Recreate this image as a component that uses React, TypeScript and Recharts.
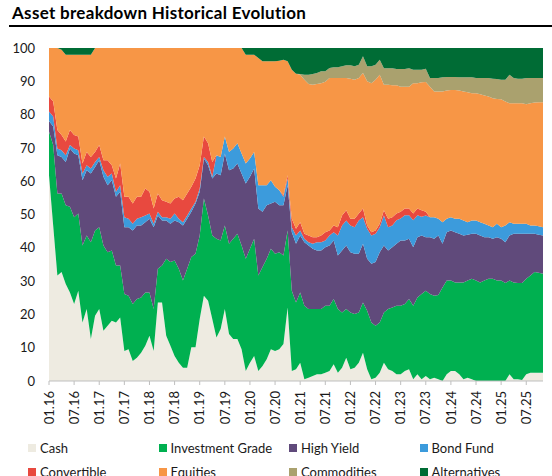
import React from 'react';
import { AreaChart, Area, XAxis, YAxis } from 'recharts';

const FONT = 'Lato, "Open Sans", sans-serif';

// monthly observations, 01.16 .. 11.25
const months: string[] = [];
for (let i = 0; i < 119; i++) {
  const m = (i % 12) + 1;
  const y = 16 + Math.floor(i / 12);
  months.push(`${m < 10 ? '0' + m : m}.${y}`);
}

const tickLabels = [
  '01.16', '07.16', '01.17', '07.17', '01.18', '07.18', '01.19', '07.19', '01.20', '07.20',
  '01.21', '07.21', '01.22', '07.22', '01.23', '07.23', '01.24', '07.24', '01.25', '07.25',
];

const yTicks = [0, 10, 20, 30, 40, 50, 60, 70, 80, 90, 100];

const cash = [
  61.8, 46.7, 31.7, 32.7, 29.1, 26.6, 23.1, 27.1, 17.6, 21.6, 12.6, 19.6, 21.6, 15.1, 16.6, 18.1, 17.6, 19.1, 9.0, 9.5,
  6.0, 7.0, 8.5, 10.6, 13.6, 9.0, 23.6, 23.6, 13.6, 10.6, 7.5, 5.5, 4.0, 4.0, 10.1, 10.1, 18.6, 25.6, 24.1, 18.6,
  13.1, 15.6, 21.6, 14.1, 12.6, 12.6, 9.5, 3.0, 5.5, 7.5, 3.0, 4.5, 6.5, 9.5, 9.0, 9.5, 11.1, 22.1, 3.0, 3.5,
  5.5, 0.5, 1.0, 1.5, 2.0, 2.0, 2.5, 3.0, 5.0, 2.5, 4.0, 7.0, 3.5, 4.0, 5.5, 8.5, 3.5, 0.5, 1.0, 2.5,
  5.5, 3.5, 3.0, 2.0, 2.0, 3.0, 3.5, 0.5, 2.0, 0.5, 1.5, 0.5, 1.0, 0.5, 0, 2.0, 3.0, 3.0, 2.0, 0.5,
  1.0, 0.5, 0, 0, 0, 0, 0, 0, 0, 0, 2.0, 0.5, 0.5, 0.3, 2.0, 2.5, 2.5, 2.5, 2.5,
];

const investmentGrade = [
  13.1, 24.2, 24.6, 23.6, 23.7, 25.7, 26.1, 23.2, 23.1, 22.1, 29.1, 25.6, 24.6, 25.6, 22.1, 21.1, 17.1, 15.6, 17.1, 16.1,
  17.1, 17.6, 16.6, 16.0, 13.0, 12.6, 10.1, 11.1, 23.1, 25.1, 28.7, 28.2, 26.2, 29.7, 27.1, 28.1, 25.1, 29.2, 25.6, 25.1,
  29.6, 26.6, 25.1, 27.1, 30.1, 31.6, 31.2, 33.7, 34.2, 35.2, 28.7, 29.7, 30.2, 30.2, 29.2, 29.2, 26.6, 23.1, 24.1, 20.1,
  21.1, 22.1, 20.6, 20.1, 19.6, 19.6, 20.1, 19.6, 19.6, 19.1, 16.6, 14.6, 17.1, 16.1, 15.1, 15.1, 17.6, 17.1, 15.6, 15.1,
  15.1, 18.1, 19.1, 20.6, 20.6, 20.1, 21.1, 22.1, 23.1, 25.6, 25.6, 25.6, 24.6, 25.3, 28.1, 28.2, 27.2, 26.6, 27.6, 29.1,
  29.2, 30.2, 30.2, 29.6, 30.2, 30.7, 30.7, 30.2, 30.2, 29.4, 28.2, 29.1, 28.9, 29.1, 28.7, 29.2, 30.2, 30.0, 29.7,
];

const highYield = [
  3.2, 5.5, 11.5, 11.0, 13.0, 17.5, 19.1, 17.5, 19.6, 19.6, 20.6, 19.1, 20.1, 20.6, 20.1, 21.1, 20.6, 22.1, 20.1, 20.6,
  22.1, 22.1, 21.6, 21.1, 22.1, 24.6, 16.0, 13.5, 11.5, 11.5, 12.0, 14.0, 16.5, 15.0, 13.6, 15.1, 13.1, 12.0, 15.1, 17.1,
  19.6, 19.6, 21.6, 22.1, 21.1, 21.1, 21.6, 22.6, 21.6, 21.1, 20.1, 16.6, 16.1, 13.6, 15.6, 14.1, 15.1, 13.6, 17.6, 17.6,
  17.1, 19.1, 19.1, 18.1, 17.6, 17.6, 17.6, 18.1, 17.6, 16.1, 18.6, 19.1, 18.1, 18.1, 17.6, 17.6, 15.6, 17.6, 19.1, 21.1,
  20.1, 17.6, 18.1, 18.6, 19.6, 19.1, 18.1, 17.6, 18.1, 17.6, 16.1, 17.1, 17.1, 17.9, 13.1, 14.5, 15.0, 15.1, 14.6, 14.1,
  13.7, 13.5, 14.0, 14.1, 13.0, 12.5, 12.0, 13.0, 12.5, 12.3, 13.5, 14.6, 14.8, 14.8, 13.5, 12.5, 11.5, 11.4, 11.5,
];

const bondFund = [
  2.8, 3.0, 2.0, 2.0, 2.0, 1.1, 1.5, 1.5, 2.0, 1.5, 1.5, 1.5, 1.0, 2.0, 2.5, 2.0, 1.5, 2.0, 3.0, 2.5,
  2.0, 2.0, 2.5, 2.0, 1.6, 1.0, 1.1, 1.0, 1.0, 1.5, 2.1, 1.0, 1.0, 1.0, 1.0, 0.5, 1.0, 0.5, 1.0, 0.5,
  5.5, 5.5, 5.1, 5.5, 6.0, 6.1, 6.0, 6.0, 5.5, 5.0, 7.0, 8.0, 6.0, 7.0, 4.5, 4.5, 2.5, 2.0, 1.5, 2.5,
  1.5, 1.0, 1.0, 1.5, 2.5, 2.5, 2.0, 3.0, 2.5, 6.0, 7.5, 7.5, 8.0, 8.0, 10.0, 8.0, 9.0, 8.5, 8.5, 7.5,
  9.0, 7.0, 6.5, 7.1, 6.6, 7.6, 7.1, 8.1, 6.6, 5.6, 6.5, 6.0, 6.5, 5.0, 6.5, 4.0, 4.0, 4.0, 4.5, 4.5,
  3.8, 4.0, 4.0, 4.0, 4.0, 3.5, 3.5, 4.0, 3.5, 5.0, 4.0, 3.0, 3.0, 3.0, 3.0, 2.5, 2.5, 2.6, 2.5,
];

const convertible = [
  4.5, 4.5, 5.6, 4.6, 4.1, 4.5, 4.1, 4.1, 3.0, 4.0, 3.5, 3.0, 3.6, 3.0, 5.0, 2.5, 4.0, 6.5, 6.1, 6.6,
  6.1, 6.6, 6.1, 8.1, 6.5, 4.6, 5.5, 5.1, 4.6, 4.6, 4.5, 6.6, 6.6, 6.6, 6.5, 7.0, 7.0, 6.1, 5.6, 4.5,
  0, 0, 0, 0, 0, 0, 0, 0, 0, 0, 0, 0, 0, 0, 0, 0, 0.5, 1.0, 2.5, 2.0,
  2.5, 1.5, 2.0, 2.0, 1.5, 2.0, 2.5, 1.5, 2.0, 2.5, 3.0, 3.1, 2.0, 2.5, 2.1, 2.6, 1.0, 1.0, 1.0, 1.0,
  1.6, 2.5, 2.5, 2.0, 2.0, 2.0, 2.0, 2.0, 2.0, 2.0, 1.1, 0, 0, 0, 0, 0, 0, 0, 0, 0,
  0, 0, 0, 0, 0, 0, 0, 0, 0, 0, 0, 0, 0, 0, 0, 0, 0, 0, 0,
];

const equities = [
  14.6, 16.1, 24.6, 25.6, 26.1, 22.6, 24.1, 24.6, 32.7, 29.2, 30.7, 31.2, 29.1, 33.7, 33.7, 35.2, 39.2, 34.7, 44.7, 44.7,
  46.7, 44.7, 44.7, 42.2, 43.2, 48.2, 43.7, 45.7, 46.2, 46.7, 45.2, 44.7, 45.7, 43.7, 41.7, 39.2, 35.2, 26.6, 28.6, 34.2,
  32.2, 32.7, 26.6, 31.2, 30.2, 28.6, 31.7, 32.7, 31.2, 29.2, 38.2, 37.2, 37.2, 35.7, 37.7, 38.9, 40.7, 34.2, 44.8, 46.6,
  44.3, 46.3, 45.5, 45.8, 46.0, 45.7, 45.2, 45.8, 44.3, 44.8, 41.3, 39.7, 42.1, 41.8, 40.7, 40.7, 43.3, 44.7, 45.3, 44.8,
  37.7, 40.3, 39.6, 38.5, 37.6, 36.6, 36.6, 39.1, 37.6, 38.4, 39.0, 39.2, 37.7, 38.2, 39.2, 38.5, 38.2, 38.7, 38.5, 38.7,
  39.0, 38.2, 38.2, 38.4, 38.5, 38.7, 38.7, 37.5, 38.4, 37.2, 35.7, 36.2, 36.2, 36.2, 35.9, 36.7, 36.9, 37.2, 37.5,
];

const commodities = [
  0, 0, 0, 0, 0, 0, 0, 0, 0, 0, 0, 0, 0, 0, 0, 0, 0, 0, 0, 0,
  0, 0, 0, 0, 0, 0, 0, 0, 0, 0, 0, 0, 0, 0, 0, 0, 0, 0, 0, 0,
  0, 0, 0, 0, 0, 0, 0, 0, 0, 0, 0, 0, 0, 0, 0, 0, 0, 0, 0, 0,
  0.2, 1.5, 2.8, 3.2, 3.3, 3.6, 3.1, 3.0, 3.2, 3.2, 3.5, 3.8, 4.0, 4.0, 4.0, 5.0, 4.5, 5.1, 4.5, 4.5,
  4.9, 4.9, 5.1, 4.9, 5.3, 5.3, 5.5, 4.1, 4.1, 3.8, 4.0, 2.6, 4.1, 4.1, 4.3, 4.1, 3.9, 3.9, 4.0, 4.3,
  4.5, 4.8, 4.6, 4.9, 5.3, 5.6, 5.9, 6.0, 5.9, 6.6, 8.6, 7.6, 7.4, 7.4, 7.9, 7.6, 7.4, 7.3, 7.3,
];

const alternatives = [
  0, 0, 0, 0.5, 2.0, 2.0, 2.0, 2.0, 2.0, 2.0, 2.0, 0, 0, 0, 0, 0, 0, 0, 0, 0,
  0, 0, 0, 0, 0, 0, 0, 0, 0, 0, 0, 0, 0, 0, 0, 0, 0, 0, 0, 0,
  0, 0, 0, 0, 0, 0, 0, 2.0, 2.0, 2.0, 3.0, 4.0, 4.0, 4.0, 4.0, 3.8, 3.5, 4.0, 6.5, 7.7,
  7.8, 8.0, 8.0, 7.8, 7.5, 7.0, 7.0, 6.0, 5.8, 5.8, 5.5, 5.2, 5.2, 5.5, 5.0, 2.5, 5.5, 5.5, 5.0, 3.5,
  6.1, 6.1, 6.1, 6.3, 6.3, 6.3, 6.1, 6.5, 6.5, 6.5, 6.2, 9.0, 9.0, 9.0, 8.8, 8.7, 8.7, 8.7, 8.8, 8.8,
  8.8, 8.8, 9.0, 9.0, 9.0, 9.0, 9.2, 9.3, 9.5, 9.5, 8.0, 9.0, 9.2, 9.2, 9.0, 9.0, 9.0, 9.0, 9.0,
];

const series = [
  { key: 'cash', name: 'Cash', color: '#EEEBE1', values: cash },
  { key: 'ig', name: 'Investment Grade', color: '#00B050', values: investmentGrade },
  { key: 'hy', name: 'High Yield', color: '#604A7B', values: highYield },
  { key: 'bf', name: 'Bond Fund', color: '#3C9BDC', values: bondFund },
  { key: 'conv', name: 'Convertible', color: '#E8493F', values: convertible },
  { key: 'eq', name: 'Equities', color: '#F79646', values: equities },
  { key: 'com', name: 'Commodities', color: '#AAA16E', values: commodities },
  { key: 'alt', name: 'Alternatives', color: '#006C35', values: alternatives },
];

const data = months.map((month, i) => {
  const row: Record<string, any> = { month };
  series.forEach(s => { row[s.key] = s.values[i]; });
  return row;
});

function RotatedTick({ x, y, payload }: any) {
  return (
    <g transform={`translate(${x},${y})`}>
      <text
        transform="rotate(-90)"
        x={-4}
        y={0}
        dy="0.36em"
        textAnchor="end"
        fontFamily={FONT}
        fontSize={13}
        fill="#1a1a1a"
      >
        {payload.value}
      </text>
    </g>
  );
}

export default function App() {
  return (
    <div style={{ position: 'absolute', left: 0, top: 0, width: 552, height: 476, overflow: 'hidden', background: '#fff', fontFamily: FONT }}>
      <div style={{ position: 'absolute', left: 12, top: 3, fontSize: 17, lineHeight: '20px', fontWeight: 700, letterSpacing: 0.3, color: '#000', whiteSpace: 'nowrap' }}>
        Asset breakdown Historical Evolution
      </div>
      <div style={{ position: 'absolute', left: 9, top: 25, width: 543, height: 2, background: '#000' }} />

      <div style={{ position: 'absolute', left: 0, top: 0 }}>
        <AreaChart width={552} height={476} data={data} margin={{ top: 48, right: 9, bottom: 50, left: 0 }}>
          <XAxis
            dataKey="month"
            ticks={tickLabels}
            interval={0}
            height={45}
            tickSize={4}
            axisLine={{ stroke: '#BFBFBF' }}
            tickLine={{ stroke: '#BFBFBF' }}
            tick={<RotatedTick />}
          />
          <YAxis
            domain={[0, 100]}
            ticks={yTicks}
            interval={0}
            width={49}
            axisLine={false}
            tickLine={false}
            tickMargin={8}
            tick={{ fontFamily: FONT, fontSize: 13, fill: '#1a1a1a' }}
          />
          {series.map(s => (
            <Area
              key={s.key}
              type="linear"
              dataKey={s.key}
              name={s.name}
              stackId="mix"
              stroke="none"
              fill={s.color}
              fillOpacity={1}
              isAnimationActive={false}
            />
          ))}
        </AreaChart>
      </div>

      {series.map((s, i) => (
        <div
          key={s.key}
          style={{
            position: 'absolute',
            left: 28 + (i % 4) * 130.5,
            top: 440 + Math.floor(i / 4) * 24,
            height: 16,
            display: 'flex',
            alignItems: 'center',
            fontSize: 13,
            color: '#1a1a1a',
            whiteSpace: 'nowrap',
          }}
        >
          <span style={{ display: 'inline-block', width: 8, height: 8, background: s.color, marginRight: 4 }} />
          {s.name}
        </div>
      ))}
    </div>
  );
}
